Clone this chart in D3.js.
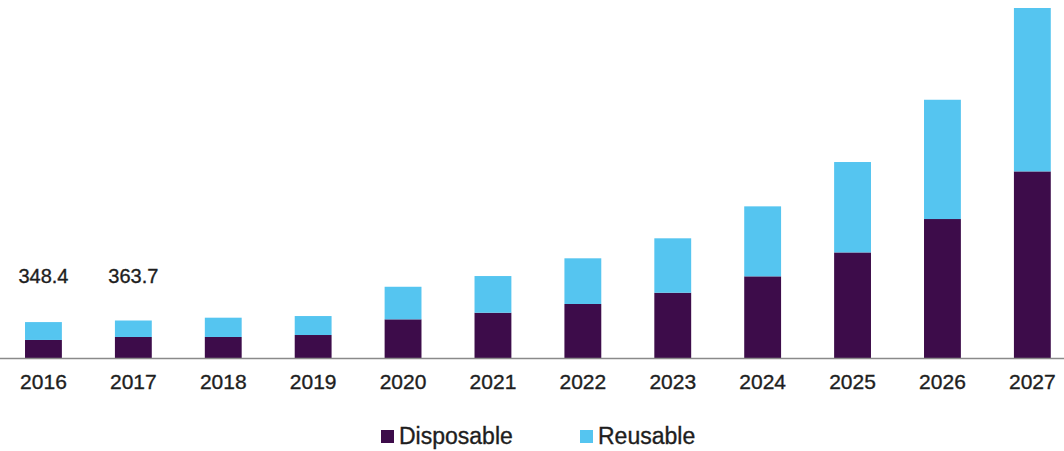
<!DOCTYPE html>
<html>
<head>
<meta charset="utf-8">
<script src="https://cdn.jsdelivr.net/npm/d3@7"></script>
<style>
  body { margin: 0; background: #fff; }
  text { font-family: "Liberation Sans", Arial, sans-serif; fill: #1e1e1e; stroke: #1e1e1e; stroke-width: 0.35px; }
</style>
</head>
<body>
<div id="chart"></div>
<script>
var years = ["2016", "2017", "2018", "2019", "2020", "2021", "2022", "2023", "2024", "2025", "2026", "2027"];
var disposable = [175, 204, 204, 223, 375, 439, 524, 633, 792, 1024, 1348, 1810];
var reusable = [173.4, 159.7, 187, 184, 316, 356, 443, 528, 679, 877, 1157, 1585];
var totalLabels = ["348.4", "363.7"];
var seriesNames = ["Disposable", "Reusable"];
var seriesColors = ["#3d0c4a", "#55c5f0"];

var width = 1064, height = 451;
var baseY = 358;

var svg = d3.select("#chart")
  .append("svg")
    .attr("width", width)
    .attr("height", height);

var x = d3.scaleBand()
  .domain(years)
  .range([-1.5, 1077.3])
  .paddingInner(0.59)
  .paddingOuter(0.295);

var y = d3.scaleLinear()
  .domain([0, 3395])
  .range([baseY, 8]);

var rows = years.map(function(yr, i) {
  return { year: yr, Disposable: disposable[i], Reusable: reusable[i] };
});

var stacked = d3.stack().keys(seriesNames)(rows);

svg.selectAll("g.layer")
  .data(stacked)
  .enter()
  .append("g")
    .attr("class", "layer")
    .attr("fill", function(d, i) { return seriesColors[i]; })
  .selectAll("rect")
  .data(function(d) { return d; })
  .enter()
  .append("rect")
    .attr("x", function(d) { return x(d.data.year); })
    .attr("width", x.bandwidth())
    .attr("y", function(d) { return y(d[1]); })
    .attr("height", function(d) { return y(d[0]) - y(d[1]); });

// baseline axis
var axis = svg.append("g")
  .attr("transform", "translate(0," + baseY + ")")
  .call(d3.axisBottom(x).tickSize(0).tickPadding(16));
axis.select(".domain").remove();
axis.selectAll("text")
  .attr("font-family", "Liberation Sans, Arial, sans-serif")
  .style("font-size", "21px")
  .attr("fill", "#1e1e1e");

svg.append("line")
  .attr("x1", 0)
  .attr("x2", width)
  .attr("y1", baseY + 0.5)
  .attr("y2", baseY + 0.5)
  .attr("stroke", "#8a8a8a")
  .attr("stroke-width", 1.5);

// totals for first years
svg.selectAll("text.total")
  .data(totalLabels)
  .enter()
  .append("text")
    .attr("class", "total")
    .attr("x", function(d, i) { return x(years[i]) + x.bandwidth() / 2; })
    .attr("y", 283)
    .attr("text-anchor", "middle")
    .style("font-size", "20px")
    .text(function(d) { return d; });

// legend
var legendX = [381, 580];
var legend = svg.selectAll("g.legend")
  .data(seriesNames)
  .enter()
  .append("g")
    .attr("class", "legend")
    .attr("transform", function(d, i) { return "translate(" + legendX[i] + ",430)"; });

legend.append("rect")
  .attr("width", 13)
  .attr("height", 13)
  .attr("fill", function(d, i) { return seriesColors[i]; });

legend.append("text")
  .attr("x", 18)
  .attr("y", 14)
  .style("font-size", "23px")
  .text(function(d) { return d; });
</script>
</body>
</html>
